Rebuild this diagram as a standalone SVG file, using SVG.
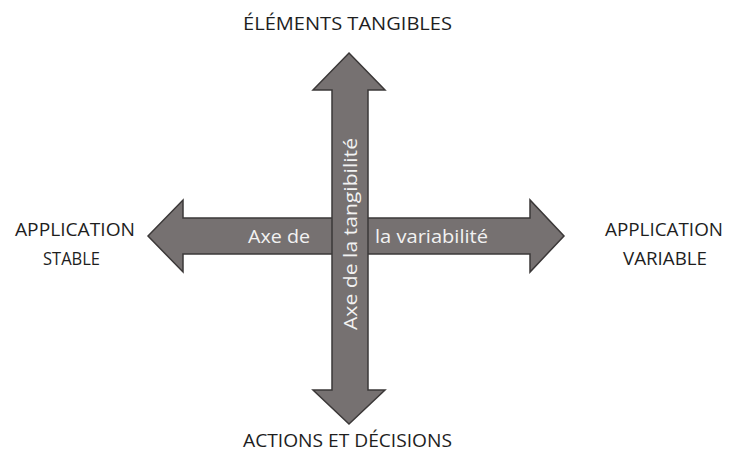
<svg xmlns="http://www.w3.org/2000/svg" width="729" height="454" viewBox="0 0 729 454">
  <style>
    .arrow { fill: #767171; stroke: #3b3838; stroke-width: 1.5; stroke-linejoin: miter; }
    .inner { font-family: "Open Sans", "Liberation Sans", sans-serif; font-size: 19px; fill: #f2f2f2; }
    .label { font-family: "Open Sans", "Liberation Sans", sans-serif; font-size: 18.5px; fill: #1e1e1e; }
  </style>
  <rect width="729" height="454" fill="#ffffff"/>

  <g id="connectors">
    <!-- horizontal double arrow: variability axis -->
    <g id="axe-variabilite">
      <polygon class="arrow" points="148,236 183,200 183,218 530,218 530,200 564,236 530,272 530,254 183,254 183,272"/>
      <text class="inner" x="248" y="243" textLength="62" lengthAdjust="spacingAndGlyphs">Axe de</text>
      <text class="inner" x="375" y="243" textLength="113" lengthAdjust="spacingAndGlyphs">la variabilité</text>
    </g>
    <!-- vertical double arrow: tangibility axis -->
    <g id="axe-tangibilite">
      <polygon class="arrow" points="349,53 385,90 368,90 368,390 385,390 349,424 313,390 332,390 332,90 313,90"/>
      <text class="inner" transform="translate(357,330) rotate(-90)" x="0" y="0" textLength="192" lengthAdjust="spacingAndGlyphs">Axe de la tangibilité</text>
    </g>
  </g>

  <g id="top-label">
    <text class="label" x="243" y="30" textLength="209" lengthAdjust="spacingAndGlyphs">ÉLÉMENTS TANGIBLES</text>
  </g>
  <g id="bottom-label">
    <text class="label" x="243" y="447" textLength="209" lengthAdjust="spacingAndGlyphs">ACTIONS ET DÉCISIONS</text>
  </g>
  <g id="left-label">
    <text class="label" x="15" y="236" textLength="120" lengthAdjust="spacingAndGlyphs">APPLICATION</text>
    <text class="label" x="43" y="265" textLength="57" lengthAdjust="spacingAndGlyphs">STABLE</text>
  </g>
  <g id="right-label">
    <text class="label" x="605" y="236" textLength="118" lengthAdjust="spacingAndGlyphs">APPLICATION</text>
    <text class="label" x="623" y="265" textLength="84" lengthAdjust="spacingAndGlyphs">VARIABLE</text>
  </g>
</svg>
